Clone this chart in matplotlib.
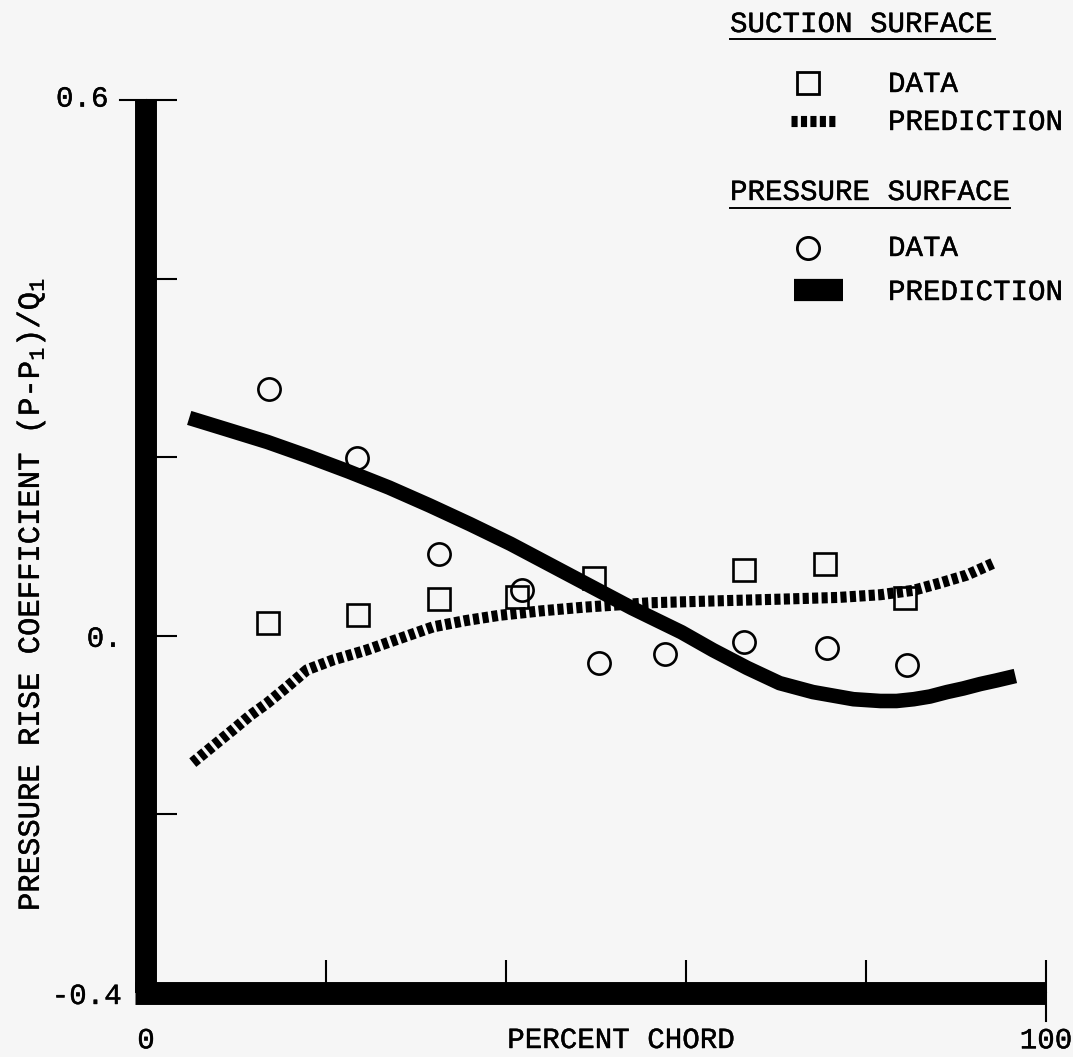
import matplotlib
matplotlib.use("Agg")
import matplotlib.pyplot as plt
import matplotlib.patheffects as pe
from matplotlib.lines import Line2D
from matplotlib.ticker import FixedLocator, FixedFormatter

plt.rcParams['font.family'] = ['Liberation Mono', 'DejaVu Sans Mono']
plt.rcParams['mathtext.default'] = 'regular'

# ---- data ----
suction_x = [13.6, 23.6, 32.6, 41.2, 49.8, 66.4, 75.4, 84.3]
suction_y = [0.014, 0.023, 0.041, 0.043, 0.065, 0.074, 0.080, 0.042]

pressure_x = [13.7, 23.4, 32.6, 41.8, 50.3, 57.7, 66.4, 75.7, 84.6]
pressure_y = [0.276, 0.199, 0.092, 0.051, -0.031, -0.020, -0.007, -0.014, -0.033]

pred_p_x = [4.8, 9.0, 13.5, 18.0, 22.5, 27.0, 31.5, 36.0, 40.5, 45.0, 49.5, 54.0,
            59.5, 63.0, 66.8, 70.4, 74.1, 78.6, 81.6, 83.4, 85.3, 87.1, 89.0, 90.8,
            92.7, 94.5, 96.6]
pred_p_y = [0.244, 0.231, 0.217, 0.201, 0.184, 0.166, 0.146, 0.125, 0.103, 0.079,
            0.055, 0.031, 0.004, -0.016, -0.036, -0.053, -0.063, -0.071, -0.073,
            -0.073, -0.071, -0.068, -0.063, -0.059, -0.054, -0.050, -0.045]

pred_s_x = [5.2, 7.5, 9.7, 11.6, 13.4, 15.7, 17.9, 20.8, 24.5, 28.2, 31.9, 35.5, 39.3,
            44.0, 48.6, 56.0, 63.0, 70.4, 77.0, 81.6, 85.3, 88.2, 91.2, 94.3]
pred_s_y = [-0.142, -0.123, -0.105, -0.089, -0.076, -0.057, -0.038, -0.027, -0.016,
            -0.003, 0.010, 0.017, 0.023, 0.028, 0.032, 0.037, 0.039, 0.041, 0.043,
            0.046, 0.051, 0.059, 0.068, 0.082]

x_ticks = [0, 20, 40, 60, 80, 100]
x_ticklabels = ['0', '', '', '', '', '100']
y_ticks = [-0.4, -0.2, 0.0, 0.2, 0.4, 0.6]
y_ticklabels = ['-0.4', '', '0.', '', '', '']
top_label = '0.6'

W, H = 1073, 1057
FS = 21
bg = '#f6f6f6'
thick = [pe.withStroke(linewidth=0.3, foreground='black')]

fig = plt.figure(figsize=(W / 100, H / 100), dpi=100, facecolor=bg)

def fx(px):
    return px / W

def fy(py):
    return 1 - py / H

left, right, top, bottom = 146, 1046, 100, 993
ax = fig.add_axes([fx(left), fy(bottom), (right - left) / W, (bottom - top) / H])
ax.set_facecolor(bg)
ax.set_xlim(0, 100)
ax.set_ylim(-0.4, 0.6)

for s in ['top', 'right']:
    ax.spines[s].set_visible(False)
ax.spines['left'].set_linewidth(15.8)
ax.spines['bottom'].set_linewidth(16.5)
ax.spines['left'].set_capstyle('butt')
ax.spines['bottom'].set_capstyle('butt')
ax.spines['bottom'].set_bounds(-1.25, 100)

ax.xaxis.set_major_locator(FixedLocator(x_ticks))
ax.xaxis.set_major_formatter(FixedFormatter(x_ticklabels))
ax.yaxis.set_major_locator(FixedLocator(y_ticks))
ax.yaxis.set_major_formatter(FixedFormatter(y_ticklabels))
ax.tick_params(axis='x', direction='in', length=24, width=1.5, pad=24, labelsize=FS)
ax.tick_params(axis='y', direction='in', length=22, width=1.5, pad=17.5, labelsize=FS)
for lab in ax.get_xticklabels() + ax.get_yticklabels():
    lab.set_path_effects(thick)

ax.annotate(top_label, xy=(0, 0.6), xycoords=ax.get_yaxis_transform(),
            xytext=(-27, 1), textcoords='offset points', ha='right', va='center',
            fontsize=FS, path_effects=thick)

# extra outward parts of the 0.6 and 100 ticks
ax.plot([-26 / (right - left), 0], [0.6, 0.6], transform=ax.get_yaxis_transform(),
        color='black', lw=1.5, clip_on=False)
ax.plot([100, 100], [-28 / (bottom - top), 0], transform=ax.get_xaxis_transform(),
        color='black', lw=1.5, clip_on=False)

# curves
ax.plot(pred_p_x, pred_p_y, color='black', lw=10.5, solid_capstyle='butt',
        solid_joinstyle='round', zorder=2)
ax.plot(pred_s_x, pred_s_y, color='black', lw=8, linestyle=(0, (0.55, 0.3)),
        dash_capstyle='butt', dash_joinstyle='round', zorder=2)

# data points
ax.plot(suction_x, suction_y, linestyle='none', marker='s', markersize=16,
        markerfacecolor='none', markeredgecolor='black', markeredgewidth=1.9, zorder=3)
ax.plot(pressure_x, pressure_y, linestyle='none', marker='o', markersize=16,
        markerfacecolor='none', markeredgecolor='black', markeredgewidth=1.9, zorder=3)

# axis labels
fig.text(fx(621), fy(1040), 'PERCENT CHORD', fontsize=FS, ha='center', va='center',
         path_effects=thick)
fig.text(fx(31), fy(595), 'PRESSURE RISE COEFFICIENT (P-P$_1$)/Q$_1$', fontsize=22,
         rotation=90, ha='center', va='center', path_effects=thick)

# legend (manual)
def ftext(px, py, s):
    fig.text(fx(px), fy(py), s, fontsize=FS, ha='left', va='baseline', path_effects=thick)

def fline(x0, x1, y, **kw):
    fig.add_artist(Line2D([fx(x0), fx(x1)], [fy(y), fy(y)], transform=fig.transFigure, **kw))

ftext(730, 32, 'SUCTION SURFACE')
fline(730, 995, 39, color='black', lw=1.4)
fig.add_artist(Line2D([fx(808)], [fy(83)], transform=fig.transFigure, marker='s',
                      markersize=16, markerfacecolor='none', markeredgecolor='black',
                      markeredgewidth=2.0, linestyle='none'))
ftext(888, 92, 'DATA')
fline(791, 836, 121, color='black', lw=8, linestyle=(0, (0.55, 0.3)), dash_capstyle='butt')
ftext(888, 130, 'PREDICTION')

ftext(730, 200, 'PRESSURE SURFACE')
fline(730, 1010, 208, color='black', lw=1.4)
fig.add_artist(Line2D([fx(808)], [fy(248)], transform=fig.transFigure, marker='o',
                      markersize=16, markerfacecolor='none', markeredgecolor='black',
                      markeredgewidth=2.0, linestyle='none'))
ftext(888, 256, 'DATA')
fline(794, 843, 290, color='black', lw=16, solid_capstyle='butt')
ftext(888, 300, 'PREDICTION')

fig.savefig('out.png', dpi=100, facecolor=bg)
